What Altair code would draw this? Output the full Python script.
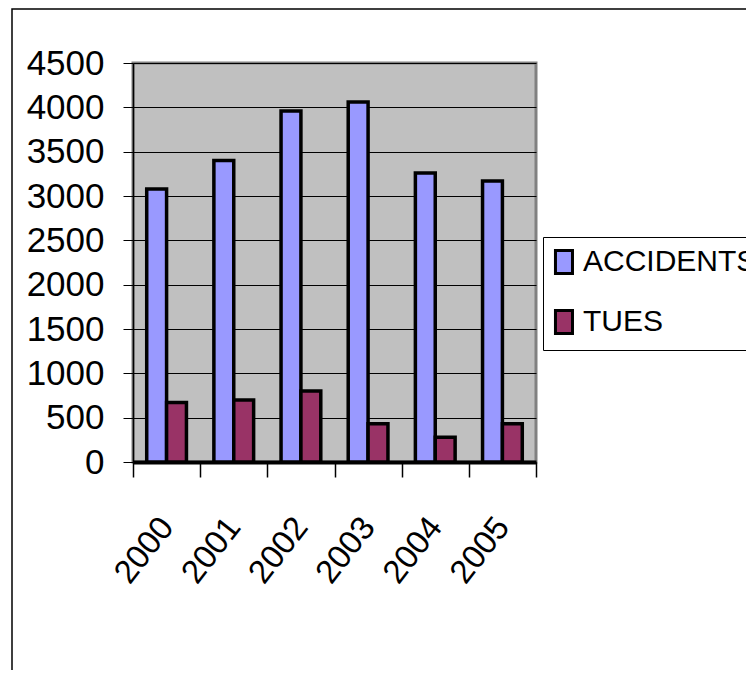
import altair as alt
import pandas as pd

years = ["2000", "2001", "2002", "2003", "2004", "2005"]
accidents = [3080, 3400, 3960, 4060, 3260, 3170]
tues = [670, 700, 800, 430, 280, 430]
series = ["ACCIDENTS", "TUES"]
colors = ["#9999FF", "#993366"]
y_ticks = [0, 500, 1000, 1500, 2000, 2500, 3000, 3500, 4000, 4500]

rows = []
for i, yr in enumerate(years):
    rows.append({"year": yr, "series": series[0], "value": accidents[i]})
    rows.append({"year": yr, "series": series[1], "value": tues[i]})
df = pd.DataFrame(rows)

FONT = "Liberation Sans Narrow, Liberation Sans, Arial, sans-serif"
W, H = 403, 399
PL, PT = 125, 55

bars = alt.Chart(df).mark_bar(stroke="black", strokeWidth=3.5).encode(
    x=alt.X("year:O", sort=years,
            scale=alt.Scale(paddingInner=0, paddingOuter=0),
            axis=alt.Axis(title=None, labelAngle=-52, labelAlign="right",
                          labelBaseline="middle", labelFont=FONT, labelFontSize=33,
                          labelColor="black", labelPadding=44, tickBand="extent",
                          tickSize=15, tickColor="black", tickWidth=1.5,
                          domainColor="black", domainWidth=4, grid=False)),
    xOffset=alt.XOffset("series:N", sort=series,
                        scale=alt.Scale(paddingOuter=0.69, paddingInner=0)),
    y=alt.Y("value:Q", scale=alt.Scale(domain=[0, 4500], nice=False),
            axis=alt.Axis(title=None, values=y_ticks, format="d", labelFont=FONT,
                          labelFontSize=35, labelColor="black", labelPadding=19,
                          tickSize=10, tickColor="black", tickWidth=1,
                          domainColor="black", domainWidth=1.5,
                          gridColor="black", gridWidth=1, gridOpacity=1)),
    color=alt.Color("series:N", sort=series,
                    scale=alt.Scale(domain=series, range=colors),
                    legend=alt.Legend(title=None, orient="none", legendX=410, legendY=174,
                                      labelFont=FONT, labelFontSize=30, labelColor="black",
                                      symbolType="M-1.09,-1H0.39V1H-1.09Z",
                                      symbolSize=529, symbolStrokeColor="black",
                                      symbolStrokeWidth=3, symbolOpacity=1,
                                      labelOffset=0, rowPadding=24, padding=10,
                                      strokeColor="black", fillColor="white",
                                      labelLimit=400)),
)

frame_df = pd.DataFrame({"k": [0]})
frame = alt.Chart(frame_df).mark_rect(fillOpacity=0, stroke="black", strokeWidth=1.5,
                                      clip=False).encode(
    x=alt.value(-121), x2=alt.value(700), y=alt.value(-54), y2=alt.value(700)
)

chart = alt.layer(frame, bars).properties(
    width=W, height=H,
    padding={"left": PL, "top": PT, "right": 210, "bottom": 208},
    autosize=alt.AutoSizeParams(type="none"),
    background="white",
).configure_view(fill="#C0C0C0", stroke="#808080", strokeWidth=3)

chart.save("out.html", embed_options={"renderer": "svg", "actions": False})
